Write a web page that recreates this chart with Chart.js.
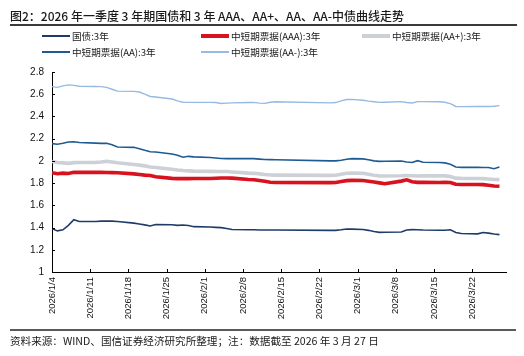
<!DOCTYPE html>
<html><head><meta charset="utf-8">
<script src="https://cdn.jsdelivr.net/npm/chart.js@4"></script>
<style>
html,body{margin:0;padding:0;background:#fff;}
#wrap{position:relative;width:524px;height:356px;overflow:hidden;font-family:"Noto Sans CJK SC","Liberation Sans",sans-serif;}
#c{position:absolute;left:0;top:0;}
.t{position:absolute;white-space:nowrap;color:#1a1a1a;}
#title{left:10px;top:7px;font-size:12px;font-weight:500;}
#tline{position:absolute;left:10px;top:24px;width:507px;height:2px;background:#3a3a3a;}
#fline{position:absolute;left:10px;top:329px;width:506px;height:2px;background:#5a5a5a;}
#foot{left:10px;top:333px;font-size:10.6px;}
.lg{position:absolute;font-size:9.6px;white-space:nowrap;color:#1a1a1a;line-height:12px;}
.sw{position:absolute;width:28px;}
</style></head>
<body><div id="wrap">
<canvas id="c" width="524" height="356"></canvas>
<div class="t" id="title">图2：2026 年一季度 3 年期国债和 3 年 AAA、AA+、AA、AA-中债曲线走势</div>
<div id="tline"></div>
<div id="legend"></div>
<div id="fline"></div>
<div class="t" id="foot">资料来源：WIND、国信证券经济研究所整理；注：数据截至 2026 年 3 月 27 日</div>
</div>
<script>
const dates = ['1/4','1/5','1/6','1/7','1/8','1/9','1/12','1/13','1/14','1/15','1/16','1/19','1/20','1/21','1/22','1/23','1/26','1/27','1/28','1/29','1/30','2/2','2/3','2/4','2/5','2/6','2/9','2/10','2/11','2/12','2/13','2/14','2/24','2/25','2/26','2/27','2/28','3/2','3/3','3/4','3/5','3/6','3/9','3/10','3/11','3/12','3/13','3/16','3/17','3/18','3/19','3/20','3/23','3/24','3/25','3/26','3/27'];
const govt = [1.39,1.37,1.38,1.42,1.47,1.455, 1.455,1.458,1.458,1.458,1.455, 1.44,1.432,1.424,1.414,1.428, 1.425,1.42,1.423,1.418,1.408, 1.405,1.402,1.399,1.392,1.383, 1.38,1.38,1.378,1.378,1.378,1.378, 1.375,1.375,1.38,1.387,1.386, 1.382,1.375,1.365,1.357,1.358, 1.36,1.378,1.381,1.38,1.378, 1.376,1.376,1.38,1.356,1.346, 1.343,1.356,1.35,1.342,1.336];
const aaa = [1.893,1.885,1.89,1.886,1.898,1.897, 1.898,1.897,1.896,1.894,1.893, 1.883,1.878,1.872,1.868,1.858, 1.843,1.84,1.84,1.84,1.841, 1.842,1.844,1.846,1.846,1.845, 1.832,1.83,1.824,1.816,1.808,1.805, 1.804,1.806,1.815,1.822,1.825, 1.823,1.817,1.81,1.802,1.795, 1.818,1.83,1.813,1.807,1.807, 1.806,1.807,1.806,1.79,1.787, 1.787,1.786,1.78,1.774,1.772];
const aaPlus = [1.995,1.985,1.982,1.978,1.984,1.986, 1.987,1.99,1.997,1.99,1.983, 1.968,1.962,1.955,1.945,1.94, 1.925,1.918,1.913,1.91,1.908, 1.906,1.905,1.905,1.904,1.9, 1.89,1.888,1.883,1.877,1.873,1.872, 1.87,1.871,1.88,1.889,1.891, 1.888,1.879,1.87,1.865,1.864, 1.866,1.868,1.866,1.864,1.865, 1.866,1.865,1.86,1.845,1.843, 1.842,1.84,1.837,1.833,1.831];
const aa = [2.155,2.15,2.158,2.17,2.172,2.165, 2.16,2.158,2.158,2.145,2.125, 2.122,2.11,2.095,2.082,2.08, 2.062,2.05,2.033,2.041,2.036, 2.03,2.026,2.022,2.02,2.02, 2.02,2.02,2.016,2.013,2.011,2.01, 2.0,2.0,2.006,2.015,2.02, 2.018,2.01,2.0,1.996,1.997, 1.999,1.99,1.985,2.002,1.988, 1.985,1.982,1.97,1.945,1.942, 1.942,1.94,1.94,1.93,1.945];
const aaMinus = [2.668,2.662,2.675,2.684,2.68,2.672, 2.67,2.668,2.662,2.645,2.628, 2.626,2.62,2.6,2.58,2.575, 2.557,2.54,2.528,2.527,2.527, 2.527,2.525,2.516,2.52,2.522, 2.525,2.527,2.52,2.518,2.528,2.532, 2.522,2.525,2.54,2.552,2.554, 2.546,2.538,2.532,2.527,2.528, 2.533,2.526,2.521,2.533,2.533, 2.532,2.528,2.516,2.49,2.488, 2.489,2.49,2.49,2.492,2.497];
const xTickLabels = ['2026/1/4','2026/1/11','2026/1/18','2026/1/25','2026/2/1','2026/2/8','2026/2/15','2026/2/22','2026/3/1','2026/3/8','2026/3/15','2026/3/22'];
const yTickLabels = ['1','1.2','1.4','1.6','1.8','2','2.2','2.4','2.6','2.8'];
const seriesNames = ['国债:3年','中短期票据(AAA):3年','中短期票据(AA+):3年','中短期票据(AA):3年','中短期票据(AA-):3年'];

const colors = ['#1f3c68','#d8121e','#cdd1d7','#1e5b92','#98b9e0'];
const widths = [1.6,3.6,3.6,1.6,1.4];

function dayIndex(s){const [m,d]=s.split('/').map(Number);return (Date.UTC(2026,m-1,d)-Date.UTC(2026,0,4))/86400000;}
const xs = dates.map(dayIndex);
const seriesVals = [govt,aaa,aaPlus,aa,aaMinus];

// legend (HTML)
const lgPos = [[42,36],[201,36],[362,36],[42,52],[201,52]];
const lg = document.getElementById('legend');
seriesNames.forEach((n,i)=>{
  const [x,y]=lgPos[i];
  const s=document.createElement('div');s.className='sw';
  s.style.left=x+'px';s.style.top=(y-widths[i]/2)+'px';s.style.height=widths[i]+'px';s.style.background=colors[i];
  lg.appendChild(s);
  const t=document.createElement('div');t.className='lg';t.textContent=n;
  t.style.left=(x+30)+'px';t.style.top=(y-6.5)+'px';
  lg.appendChild(t);
});

const innerTicks = {
  id:'innerTicks',
  afterDraw(chart){
    const {ctx,chartArea:a,scales:{x,y}}=chart;
    ctx.save();ctx.strokeStyle='#000';ctx.lineWidth=1;ctx.beginPath();
    y.ticks.forEach(t=>{const p=Math.round(y.getPixelForValue(t.value))+0.5;ctx.moveTo(a.left,p);ctx.lineTo(a.left+3,p);});
    x.ticks.forEach(t=>{const p=Math.round(x.getPixelForValue(t.value))+0.5;ctx.moveTo(p,a.bottom);ctx.lineTo(p,a.bottom-3);});
    ctx.stroke();ctx.restore();
  }
};

new Chart(document.getElementById('c'),{
  type:'line',
  data:{datasets:seriesNames.map((n,i)=>({
    label:n,
    data:xs.map((x,j)=>({x:x,y:seriesVals[i][j]})),
    borderColor:colors[i],borderWidth:widths[i],pointRadius:0,tension:0,fill:false,
    order:[1,2,3,0,0][i]
  }))},
  options:{
    responsive:false,animation:false,
    layout:{padding:{left:0,top:72,right:18,bottom:30}},
    plugins:{legend:{display:false},tooltip:{enabled:false},title:{display:false}},
    scales:{
      x:{type:'linear',min:0,max:83.2,
        grid:{display:false,drawTicks:false},
        border:{display:true,color:'#000',width:1},
        ticks:{stepSize:7,autoSkip:false,minRotation:90,maxRotation:90,padding:5,color:'#111',
          font:{family:'"Liberation Sans", Arial, sans-serif',size:9.5},
          callback:(v)=>{const k=v/7;return Number.isInteger(k)&&xTickLabels[k]?xTickLabels[k]:null;}},
        afterFit:(s)=>{s.height=356-30-272;}
      },
      y:{min:1,max:2.8,
        grid:{display:false,drawTicks:false},
        border:{display:true,color:'#000',width:1},
        ticks:{stepSize:0.2,padding:8,color:'#111',
          font:{family:'"Liberation Sans", Arial, sans-serif',size:10},
          callback:(v)=>{const k=Math.round((v-1)/0.2);return yTickLabels[k];}},
        afterFit:(s)=>{s.width=52;}
      }
    }
  },
  plugins:[innerTicks]
});
</script>
</body></html>
